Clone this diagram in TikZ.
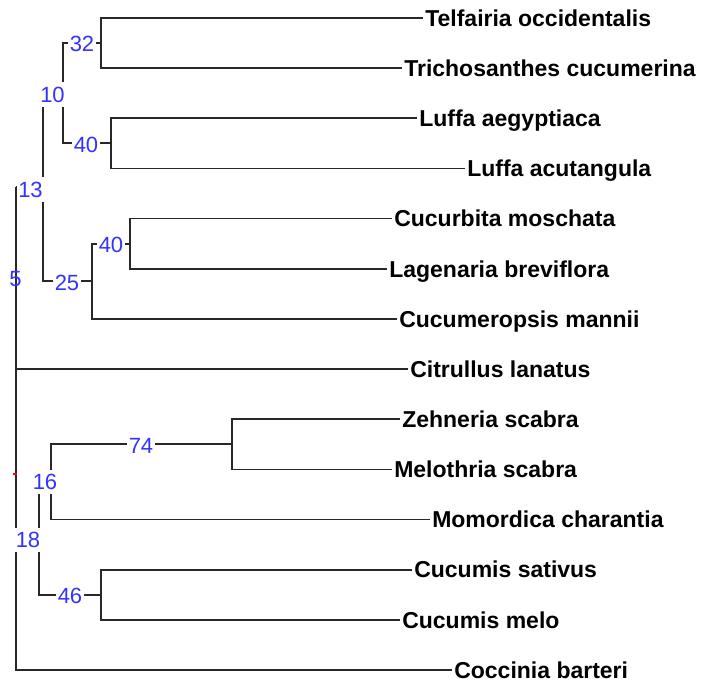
\documentclass[tikz,border=0pt]{standalone}
\usepackage{fontspec}
\setmainfont{Liberation Sans}
\definecolor{lblblue}{RGB}{51,51,255}
\definecolor{edgecol}{RGB}{40,40,40}
\begin{document}
\begin{tikzpicture}[x=0.75pt,y=-0.75pt,
  edge/.style={draw=edgecol,line width=1.35pt},
  leaf/.style={anchor=west,inner xsep=1.5pt,inner ysep=0pt,text height=12.4pt,text depth=0pt,
    font=\fontsize{17.25}{20}\selectfont\bfseries},
  blab/.style={fill=white,text=lblblue,inner xsep=1pt,inner ysep=3.5pt,
    font=\fontsize{16.5}{19}\selectfont},
  blabnofill/.style={text=lblblue,inner sep=1pt,font=\fontsize{16.5}{19}\selectfont}]
\useasboundingbox (0,0) rectangle (703,684);
% leaves
\node[leaf] (telf) at (423,18) {Telfairia occidentalis};
\node[leaf] (tric) at (402,68.2) {Trichosanthes cucumerina};
\node[leaf] (luae) at (417,118.3) {Luffa aegyptiaca};
\node[leaf] (luac) at (465,168.5) {Luffa acutangula};
\node[leaf] (cmos) at (392,218.6) {Cucurbita moschata};
\node[leaf] (lage) at (387,268.8) {Lagenaria breviflora};
\node[leaf] (cucm) at (397,318.9) {Cucumeropsis mannii};
\node[leaf] (citr) at (408,369.1) {Citrullus lanatus};
\node[leaf] (zehn) at (400,419.2) {Zehneria scabra};
\node[leaf] (melo) at (392,469.4) {Melothria scabra};
\node[leaf] (momo) at (430,519.5) {Momordica charantia};
\node[leaf] (csat) at (412,569.7) {Cucumis sativus};
\node[leaf] (cmel) at (400,619.8) {Cucumis melo};
\node[leaf] (cocc) at (452,670) {Coccinia barteri};
% internal nodes
\coordinate (root) at (16,187.3);
\coordinate (n13) at (43,187.3);
\coordinate (n10) at (63,93.3);
\coordinate (n32) at (101,43.1);
\coordinate (n40a) at (111,143.4);
\coordinate (n25) at (92,281.3);
\coordinate (n40b) at (130,243.7);
\coordinate (n18) at (39,538.3);
\coordinate (n16) at (51,481.9);
\coordinate (n74) at (232,444.3);
\coordinate (n46) at (101,594.8);
% edges
\draw[edge] (root) -- (n13);
\draw[edge] (root) |- (citr.west);
\draw[edge] (root) |- (cocc.west);
\draw[edge] (n18 -| root) -- (n18);
\draw[edge] (n13) |- (n10);
\draw[edge] (n13) |- (n25);
\draw[edge] (n10) |- (n32);
\draw[edge] (n10) |- (n40a);
\draw[edge] (n32) |- (telf.west);
\draw[edge] (n32) |- (tric.west);
\draw[edge] (n40a) |- (luae.west);
\draw[edge] (n40a) |- (luac.west);
\draw[edge] (n25) |- (n40b);
\draw[edge] (n25) |- (cucm.west);
\draw[edge] (n40b) |- (cmos.west);
\draw[edge] (n40b) |- (lage.west);
\draw[edge] (n18) |- (n16);
\draw[edge] (n18) |- (n46);
\draw[edge] (n16) |- (n74);
\draw[edge] (n16) |- (momo.west);
\draw[edge] (n74) |- (zehn.west);
\draw[edge] (n74) |- (melo.west);
\draw[edge] (n46) |- (csat.west);
\draw[edge] (n46) |- (cmel.west);
% small red tick
\draw[red,line width=0.8pt] (13,474) -- (17,474);
% bootstrap labels
\node[blab] (l32) at (82,44) {32};
\node[blab] (l10) at (52.5,94.5) {10};
\node[blab] (l40a) at (86,144.5) {40};
\node[blab] (l13) at (30.5,189.5) {13};
\node[blab] (l40b) at (111,245) {40};
\node[blab] (l25) at (67,283) {25};
\node[blabnofill] (l5) at (15.5,279.5) {5};
\node[blab] (l74) at (141,446) {74};
\node[blab] (l16) at (45,482) {16};
\node[blab] (l18) at (28,540) {18};
\node[blab] (l46) at (70,596) {46};
\end{tikzpicture}
\end{document}
